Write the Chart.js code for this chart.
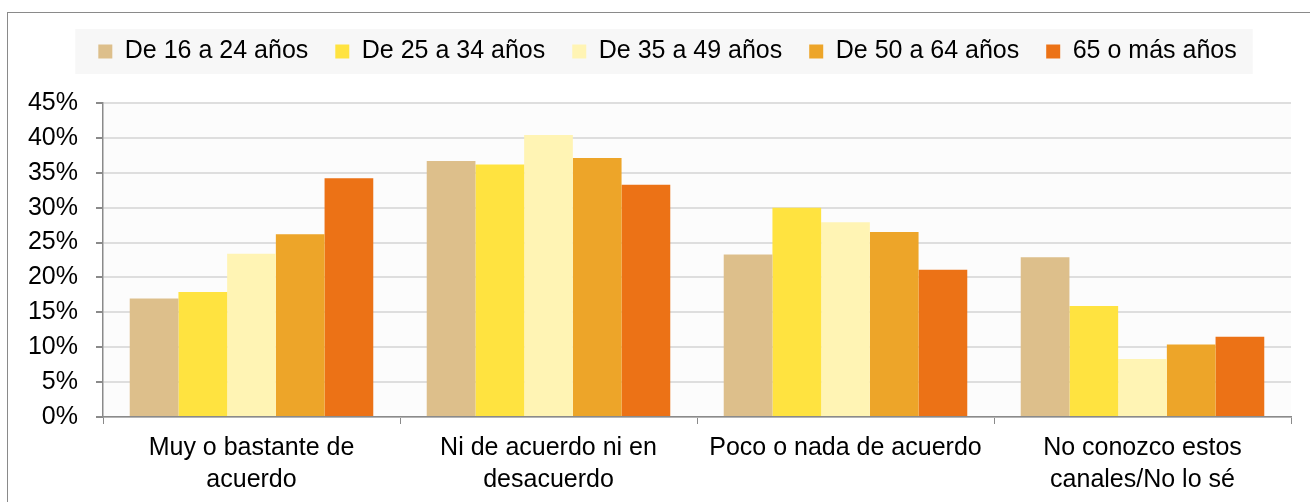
<!DOCTYPE html>
<html>
<head>
<meta charset="utf-8">
<script src="https://cdn.jsdelivr.net/npm/chart.js@4"></script>
<style>
  html, body { margin: 0; padding: 0; background: #fff; overflow: hidden; }
  #frame { position: absolute; left: 7px; top: 12px; width: 1400px; height: 600px; border: 1px solid #8a8a8a; }
  #chart { position: absolute; left: 0; top: 0; }
</style>
</head>
<body>
<div id="frame"></div>
<canvas id="chart" width="1310" height="502"></canvas>
<script>
const categories = [
  ['Muy o bastante de', 'acuerdo'],
  ['Ni de acuerdo ni en', 'desacuerdo'],
  'Poco o nada de acuerdo',
  ['No conozco estos', 'canales/No lo sé']
];
const series = ['De 16 a 24 años', 'De 25 a 34 años', 'De 35 a 49 años', 'De 50 a 64 años', '65 o más años'];
const colors = ['#ddbf8b', '#ffe340', '#fff4b4', '#eda529', '#ec7216'];
const de16a24 = [17.0, 36.7, 23.3, 22.9];
const de25a34 = [17.9, 36.2, 30.0, 15.9];
const de35a49 = [23.4, 40.4, 27.9, 8.3];
const de50a64 = [26.2, 37.1, 26.5, 10.4];
const de65mas = [34.2, 33.3, 21.1, 11.5];
const yTicks = [0, 5, 10, 15, 20, 25, 30, 35, 40, 45];

const values = [de16a24, de25a34, de35a49, de50a64, de65mas];

Chart.defaults.font.family = '"Liberation Sans", Arial, sans-serif';
Chart.defaults.font.size = 25;
Chart.defaults.color = '#000';

// extra room under the legend, legend nudged right, backgrounds for legend and plot
const extras = {
  id: 'extras',
  beforeInit(chart) {
    const fit = chart.legend.fit;
    chart.legend.fit = function () {
      fit.bind(chart.legend)();
      this.height += 29;
    };
  },
  afterLayout(chart) {
    chart.legend.left += 36;
  },
  beforeDraw(chart) {
    const ctx = chart.ctx;
    const a = chart.chartArea;
    ctx.save();
    ctx.fillStyle = '#fcfcfc';
    ctx.fillRect(a.left, a.top, a.right - a.left, a.bottom - a.top);
    const hb = chart.legend.legendHitBoxes;
    if (hb && hb.length) {
      const first = hb[0], last = hb[hb.length - 1];
      ctx.fillStyle = '#f7f7f7';
      ctx.fillRect(first.left - 23, first.top - 10, last.left + last.width + 16 - (first.left - 23), first.height + 20);
    }
    ctx.restore();
  }
};

new Chart(document.getElementById('chart').getContext('2d'), {
  type: 'bar',
  data: {
    labels: categories,
    datasets: series.map((s, i) => ({
      label: s,
      data: values[i],
      backgroundColor: colors[i],
      borderWidth: 0,
      categoryPercentage: 0.82,
      barPercentage: 1.0
    }))
  },
  options: {
    responsive: false,
    animation: false,
    layout: { padding: { left: 8, right: 19, top: 12, bottom: 0 } },
    plugins: {
      legend: {
        position: 'top',
        labels: { boxWidth: 14, boxHeight: 14, padding: 27, color: '#000' }
      },
      tooltip: { enabled: false }
    },
    scales: {
      x: {
        afterFit(s) { s.height = 85; },
        border: { color: '#8a8a8a', width: 1.5 },
        grid: { display: true, drawOnChartArea: false, drawTicks: true, tickLength: 7, tickColor: '#8a8a8a', offset: true },
        ticks: { padding: 8, color: '#000', font: { lineHeight: 1.28 } }
      },
      y: {
        min: 0,
        max: 45,
        afterFit(s) { s.width = 95; },
        afterBuildTicks(s) { s.ticks = yTicks.map(v => ({ value: v })); },
        border: { color: '#8a8a8a', width: 1.5 },
        grid: { color: '#dedede', lineWidth: 2, tickLength: 7, tickColor: '#8a8a8a' },
        ticks: { padding: 18, color: '#000', callback: v => v + '%' }
      }
    }
  },
  plugins: [extras]
});
</script>
</body>
</html>
